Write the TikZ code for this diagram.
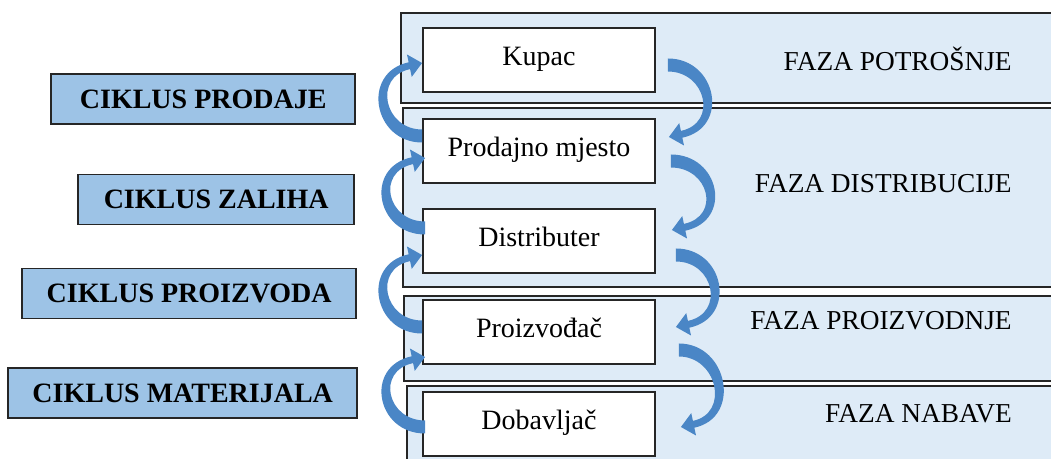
\documentclass[tikz,border=0pt]{standalone}
\usepackage{fontspec}
\setmainfont{Liberation Serif}
\usetikzlibrary{calc}
\definecolor{bandfill}{RGB}{222,235,247}
\definecolor{cyclefill}{RGB}{157,195,230}
\definecolor{arrowblue}{RGB}{74,134,198}
\definecolor{edgegray}{RGB}{38,38,38}
\tikzset{band/.style={draw=edgegray, fill=bandfill, line width=1.3pt}}
\tikzset{stage/.style={draw=edgegray, fill=white, line width=1.4pt, minimum width=174pt, minimum height=48pt, inner sep=0pt, text height=15pt, text depth=7pt, font=\fontsize{21}{25}\selectfont}}
\tikzset{cycle label/.style={draw=edgegray, fill=cyclefill, line width=1.2pt, anchor=east, minimum height=37.5pt, inner sep=0pt, text height=14pt, text depth=0pt, font=\bfseries\fontsize{21}{25}\selectfont}}
\tikzset{phase/.style={anchor=base east, inner sep=0pt, font=\fontsize{20.5}{24}\selectfont}}
\tikzset{cycle arrow/.style={fill=arrowblue}}
% tapered curved arrow: #1 tail, #2 tip, #3 = 1 (left side) or -1 (right side)
\newcommand{\cyclearrow}[3]{%
  \coordinate (tl) at #1;
  \coordinate (tp) at #2;
  \fill[cycle arrow] ($(tl)+(0,#3*6.5)$)
    .. controls ($(tl)+(#3*-49,#3*6.5)$) and ($(tp)+(#3*-61.3,#3*9.5)$) .. ($(tp)+(#3*-13.4,#3*-0.7)$)
    -- ($(tp)+(#3*-15.1,#3*-8.5)$) -- (tp) -- ($(tp)+(#3*-10.3,#3*13.9)$)
    -- ($(tp)+(#3*-12,#3*6.1)$)
    .. controls ($(tp)+(#3*-49.2,#3*14)$) and ($(tl)+(#3*-38,#3*-6.5)$) .. ($(tl)+(0,#3*-6.5)$)
    -- cycle;}

\begin{document}
\begin{tikzpicture}[x=0.75pt, y=-0.75pt]
\useasboundingbox (0,0) rectangle (1051,459);
\clip (0,0) rectangle (1051,459);

% faze
\draw[band] (401,13) rectangle (1070,103);
\draw[band] (403,108) rectangle (1070,287);
\draw[band] (404,296) rectangle (1070,381);
\draw[band] (407,386) rectangle (1070,470);

\node[phase] (potrosnja) at (1012,70.5) {FAZA POTROŠNJE};
\node[phase] (distribucija) at (1012,193) {FAZA DISTRIBUCIJE};
\node[phase] (proizvodnja) at (1012,330) {FAZA PROIZVODNJE};
\node[phase] (nabava) at (1012,423) {FAZA NABAVE};

% sudionici
\node[stage] (kupac) at (539,60) {Kupac};
\node[stage] (prodaja) at (539,151) {Prodajno mjesto};
\node[stage] (distributer) at (539,241) {Distributer};
\node[stage] (proizvodjac) at (539,332) {Proizvođač};
\node[stage] (dobavljac) at (539,424) {Dobavljač};

% ciklusi
\node[cycle label, minimum width=228pt] (cprodaje) at (356,99) {CIKLUS PRODAJE};
\node[cycle label, minimum width=207pt] (czaliha) at (355,199.5) {CIKLUS ZALIHA};
\node[cycle label, minimum width=250.5pt] (cproizvoda) at (357,293.5) {CIKLUS PROIZVODA};
\node[cycle label, minimum width=261.75pt] (cmaterijala) at (358,393) {CIKLUS MATERIJALA};

% lijeve strelice (prema gore)
\cyclearrow{($(prodaja.west)+(0,-15)$)}{($(kupac.west)+(0,3)$)}{1}
\cyclearrow{($(distributer.west)+(3,-13)$)}{($(prodaja.west)+(3,7)$)}{1}
\cyclearrow{($(proizvodjac.west)+(0,-5)$)}{($(distributer.west)+(0,14)$)}{1}
\cyclearrow{($(dobavljac.west)+(3,3)$)}{($(proizvodjac.west)+(3,25)$)}{1}

% desne strelice (prema dolje)
\cyclearrow{($(kupac.east)+(12,5)$)}{($(prodaja.east)+(13,-14)$)}{-1}
\cyclearrow{($(prodaja.east)+(15,10)$)}{($(distributer.east)+(16,-11)$)}{-1}
\cyclearrow{($(distributer.east)+(20,14)$)}{($(proizvodjac.east)+(20,-5)$)}{-1}
\cyclearrow{($(proizvodjac.east)+(23,18)$)}{($(dobavljac.east)+(25,3)$)}{-1}
\end{tikzpicture}
\end{document}
